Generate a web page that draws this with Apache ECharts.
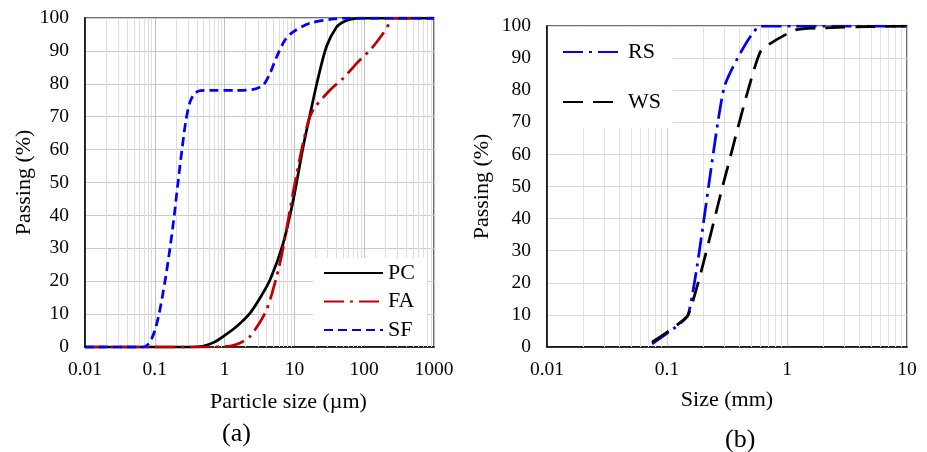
<!DOCTYPE html>
<html><head><meta charset="utf-8">
<script src="https://cdn.jsdelivr.net/npm/echarts@6/dist/echarts.min.js"></script>
<style>html,body{margin:0;padding:0;background:#fff}#c{width:927px;height:452px}</style>
</head><body><div id="c"></div>
<script>
// ---- (a) particle size distribution of binders (size in µm, passing %) ----
const pcSize = [0.01, 0.3, 0.5, 0.7, 1.0, 1.5, 2.3, 3.2, 4.5, 6.9, 9.6, 13.4, 17.7, 22, 29, 40, 50, 63, 90, 1000];
const pcPass = [0, 0, 0.3, 1.4, 3.5, 6.3, 10.2, 14.8, 20.5, 31.5, 44.5, 61, 73, 82, 91.5, 97.2, 98.8, 99.6, 100, 100];

const faSize = [0.01, 0.7, 1.2, 1.66, 2.31, 3.2, 4.0, 4.73, 5.9, 6.95, 8.2, 10.2, 12.7, 15.8, 19, 32.4, 50, 78, 128, 186, 261, 300, 1000];
const faPass = [0, 0, 0.3, 1.2, 3.2, 7.5, 11.3, 16, 23.5, 30.5, 39, 50, 60, 68.5, 72.5, 78.1, 81.7, 86.2, 90.8, 95.3, 99.9, 100, 100];

const sfSize = [0.01, 0.068, 0.08, 0.09, 0.1, 0.115, 0.14, 0.165, 0.19, 0.215, 0.245, 0.28, 0.32, 0.37, 0.45, 0.6, 1.5, 2.57, 3.59, 4.47, 5.57, 7.33, 9.6, 16.6, 36, 60, 1000];
const sfPass = [0, 0, 0.8, 2.5, 5, 10, 20, 30, 40, 50, 60, 69, 74.5, 77, 77.9, 78, 78, 78.3, 79.7, 83.2, 88.2, 93.3, 95.8, 98.4, 99.7, 100, 100];

// ---- (b) sand gradation (size in mm, passing %) ----
const sieveSize = [0.075, 0.15, 0.3, 0.6, 1.18, 2.36, 4.75, 10];
const rsPass = [1.0, 10, 81, 100, 100, 100, 100, 100];
const wsPass = [1.5, 10, 52, 92, 98.8, 99.5, 99.8, 100];

// tick labels
const xTicksA = [0.01, 0.1, 1, 10, 100, 1000];
const xTicksB = [0.01, 0.1, 1, 10];
const minorMult = [2, 3, 4, 5, 6, 7, 8, 9];

const pairs = (xs, ys) => xs.map((x, i) => [x, ys[i]]);
const minorLines = ticks => {
  const out = [];
  for (let i = 0; i < ticks.length - 1; i++) minorMult.forEach(m => out.push({ xAxis: +(ticks[i] * m).toPrecision(6) }));
  return out;
};
const FONT = 'Liberation Serif';
const fmt = v => String(+(+v).toPrecision(6));

const xAxisCommon = {
  type: 'log', logBase: 10, splitNumber: 5,
  axisLine: { show: true, onZero: false, lineStyle: { color: '#000', width: 1.5 } },
  axisTick: { show: false },
  axisLabel: { color: '#000', fontFamily: FONT, fontSize: 19.5, margin: 13, formatter: fmt },
  nameLocation: 'middle',
  nameTextStyle: { color: '#000', fontFamily: FONT, fontSize: 22 },
  minorTick: { show: false }, minorSplitLine: { show: false }
};
const yAxisCommon = {
  type: 'value', min: 0, max: 100, interval: 10,
  axisLine: { show: true, lineStyle: { color: '#000', width: 1.5 } },
  axisTick: { show: false },
  axisLabel: { color: '#000', fontFamily: FONT, fontSize: 19.5, margin: 16 },
  name: 'Passing (%)', nameLocation: 'middle',
  nameTextStyle: { color: '#000', fontFamily: FONT, fontSize: 22 }
};
const legendCommon = {
  orient: 'vertical', backgroundColor: '#fff', selectedMode: false, z: 8,
  itemStyle: { opacity: 0, borderWidth: 0 },
  textStyle: { color: '#000', fontFamily: FONT, fontSize: 22 }
};
const minorMark = (color, ticks) => ({
  silent: true, z: 1, symbol: ['none', 'none'], label: { show: false }, animation: false,
  lineStyle: { color, width: 1, type: 'solid' }, emphasis: { disabled: true }, data: minorLines(ticks)
});
const LW = 2.75;

const chart = echarts.init(document.getElementById('c'), null, { renderer: 'canvas' });
chart.setOption({
  animation: false,
  backgroundColor: '#fff',
  grid: [
    { left: 85, top: 18, width: 349, height: 329, show: true, borderColor: '#404040', borderWidth: 1.5 },
    { left: 547, top: 26, width: 360, height: 321, show: true, borderColor: '#404040', borderWidth: 1.5 }
  ],
  xAxis: [
    Object.assign({}, xAxisCommon, { gridIndex: 0, min: xTicksA[0], max: xTicksA[xTicksA.length - 1],
      name: 'Particle size (µm)', nameGap: 44, nameTextStyle: Object.assign({}, xAxisCommon.nameTextStyle, { padding: [0, 0, 0, 58] }),
      splitLine: { show: true, lineStyle: { color: '#bfbfbf', width: 1 } } }),
    Object.assign({}, xAxisCommon, { gridIndex: 1, min: xTicksB[0], max: xTicksB[xTicksB.length - 1], splitNumber: 3,
      name: 'Size (mm)', nameGap: 42,
      splitLine: { show: true, lineStyle: { color: '#cfcfcf', width: 1 } } })
  ],
  yAxis: [
    Object.assign({}, yAxisCommon, { gridIndex: 0, nameGap: 50, splitLine: { show: true, lineStyle: { color: '#cccccc', width: 1 } } }),
    Object.assign({}, yAxisCommon, { gridIndex: 1, nameGap: 54, splitLine: { show: true, lineStyle: { color: '#d9d9d9', width: 1 } } })
  ],
  legend: [
    Object.assign({}, legendCommon, { left: 313, top: 258, padding: [4, 12, 4, 10], itemWidth: 59, itemHeight: 14, itemGap: 6.5,
      data: ['PC', 'FA', 'SF'] }),
    Object.assign({}, legendCommon, { left: 548, top: 27.5, padding: [13.5, 12, 15, 14], itemWidth: 60, itemHeight: 14, itemGap: 28,
      data: ['RS', 'WS'] })
  ],
  graphic: [
    { type: 'text', left: 222, top: 421, style: { text: '(a)', font: '26px "Liberation Serif"', fill: '#000' } },
    { type: 'text', left: 725, top: 427, style: { text: '(b)', font: '26px "Liberation Serif"', fill: '#000' } }
  ],
  series: [
    { type: 'line', name: '_gridA', xAxisIndex: 0, yAxisIndex: 0, data: [], z: 1, silent: true, markLine: minorMark('#dedede', xTicksA) },
    { type: 'line', name: '_gridB', xAxisIndex: 1, yAxisIndex: 1, data: [], z: 1, silent: true, markLine: minorMark('#e2e2e2', xTicksB) },
    { type: 'line', name: 'PC', z: 6, xAxisIndex: 0, yAxisIndex: 0, data: pairs(pcSize, pcPass), symbol: 'none', smooth: 0.3,
      lineStyle: { color: '#000', width: LW, type: 'solid' }, itemStyle: { color: '#000' } },
    { type: 'line', name: 'FA', z: 6, xAxisIndex: 0, yAxisIndex: 0, data: pairs(faSize, faPass), symbol: 'none', smooth: 0.2,
      lineStyle: { color: '#c00000', width: LW, type: [20, 6, 3, 6] }, itemStyle: { color: '#c00000' } },
    { type: 'line', name: 'SF', z: 6, xAxisIndex: 0, yAxisIndex: 0, data: pairs(sfSize, sfPass), symbol: 'none', smooth: 0.3,
      lineStyle: { color: '#0000ff', width: LW, type: [9, 5] }, itemStyle: { color: '#0000ff' } },
    { type: 'line', name: 'RS', z: 6, xAxisIndex: 1, yAxisIndex: 1, data: pairs(sieveSize, rsPass), symbol: 'none', smooth: 0.15,
      lineStyle: { color: '#0000ff', width: LW, type: [20, 6, 3, 6] }, itemStyle: { color: '#0000ff' } },
    { type: 'line', name: 'WS', z: 6, xAxisIndex: 1, yAxisIndex: 1, data: pairs(sieveSize, wsPass), symbol: 'none', smooth: 0.15,
      lineStyle: { color: '#000', width: LW, type: [20, 10] }, itemStyle: { color: '#000' } }
  ]
});
</script>
</body></html>
